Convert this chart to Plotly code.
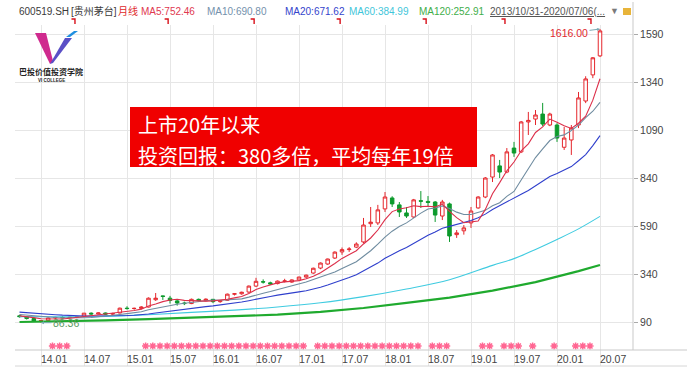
import plotly.graph_objects as go
import pandas as pd

# ---------------- data (forward-adjusted monthly bars, 600519.SH) ----------------
months = [p.strftime("%Y-%m") for p in pd.period_range("2013-10", "2020-07", freq="M")]

open_p = [122, 118, 108,
          95, 97, 111, 114, 112, 115, 121, 136, 132, 137, 131, 137,
          162, 160, 161, 168, 206, 226, 214, 200, 189, 186, 208, 201,
          208, 196, 203, 235, 237, 246, 277, 300, 294, 290, 301, 298,
          309, 324, 345, 371, 392, 423, 455, 467, 480, 507, 602, 606,
          679, 736, 700, 658, 637, 722, 718, 715, 642, 705, 545, 565,
          606, 684, 741, 845, 903, 871, 996, 976, 1132, 1147, 1173, 1116,
          1116, 1000, 1038, 1116, 1241, 1377, 1476]
high_p = [127, 121, 110,
          100, 115, 118, 120, 118, 120, 136, 140, 140, 139, 138, 165,
          172, 165, 172, 218, 241, 228, 226, 210, 196, 212, 212, 213,
          210, 205, 238, 240, 248, 280, 320, 312, 300, 306, 315, 312,
          326, 337, 373, 400, 420, 458, 478, 480, 505, 632, 689, 700,
          767, 745, 715, 689, 731, 772, 746, 720, 726, 712, 569, 595,
          689, 745, 845, 965, 934, 996, 1028, 1137, 1184, 1194, 1231, 1180,
          1125, 1106, 1116, 1288, 1370, 1470, 1616]
low_p = [113, 103, 92,
         86.36, 95, 105, 109, 108, 110, 115, 128, 130, 128, 126, 135,
         155, 154, 156, 166, 200, 205, 186, 175, 178, 183, 197, 198,
         188, 190, 200, 228, 232, 242, 272, 290, 283, 286, 296, 294,
         305, 320, 341, 365, 388, 418, 440, 455, 475, 500, 585, 595,
         663, 689, 637, 632, 632, 684, 690, 611, 621, 507, 528, 545,
         580, 680, 735, 819, 840, 865, 950, 970, 1064, 1116, 1110, 1110,
         1028, 986, 960, 1100, 1230, 1360, 1470]
close_p = [118, 108, 95,
           97, 111, 114, 112, 115, 117, 136, 132, 137, 131, 134, 162,
           160, 161, 168, 214, 214, 223, 202, 189, 186, 208, 201, 209,
           196, 201, 235, 237, 245, 277, 302, 298, 288, 303, 304, 309,
           324, 334, 370, 397, 418, 454, 467, 470, 496, 595, 610, 674,
           741, 705, 663, 642, 726, 719, 713, 647, 715, 538, 554, 580,
           668, 741, 840, 960, 871, 976, 970, 1132, 1140, 1168, 1121, 1173,
           1048, 1048, 1100, 1257, 1356, 1466, 1606]
# closes of the 19 months before 2013-10 (seed for MA5/10/20)
close_prior = [145, 160, 155, 170, 160, 162, 158, 155, 135, 139,
               140, 135, 133, 138, 132, 122, 128, 124, 118]

# long averages
ma60_months = ["2013-10", "2014-04", "2014-10", "2015-04", "2015-10", "2016-04", "2016-10",
               "2017-04", "2017-10", "2018-04", "2018-10", "2019-04", "2019-07", "2019-10",
               "2020-01", "2020-04", "2020-07"]
ma60_vals = [118, 117, 119, 128, 140, 152, 168, 190, 222, 262, 310, 385, 420, 468, 520, 575, 640]
ma120_months = ["2013-10", "2014-04", "2014-10", "2015-04", "2015-10", "2016-04", "2016-10",
                "2017-04", "2017-10", "2018-04", "2018-10", "2019-04", "2019-10", "2020-04", "2020-07"]
ma120_vals = [90, 93, 98, 105, 112, 118, 128, 143, 163, 190, 217, 253, 298, 355, 387]

star_runs = [("2014-02", "2014-04"), ("2015-03", "2017-01"), ("2017-03", "2018-05"),
             ("2018-07", "2018-09"), ("2019-02", "2019-03"), ("2019-05", "2019-07"),
             ("2019-09", "2019-09"), ("2019-12", "2019-12"), ("2020-03", "2020-05")]
dividend_months = ["2014-06", "2015-07", "2016-07", "2017-07", "2018-07", "2019-06", "2020-06"]

tick_labels = ["14.01", "14.07", "15.01", "15.07", "16.01", "16.07", "17.01", "17.07",
               "18.01", "18.07", "19.01", "19.07", "20.01", "20.07"]
y_ticks = [90, 340, 590, 840, 1090, 1340, 1590]

legend_items = [("600519.SH", "#3a3a3a"), ("[贵州茅台]", "#3a3a3a"), ("月线", "#e02a2a"),
                ("MA5:752.46", "#e0384f"), ("MA10:690.80", "#7491ac"),
                ("MA20:671.62", "#3444cc"), ("MA60:384.99", "#3fc6da"),
                ("MA120:252.91", "#3fae4a")]
date_text = "2013/10/31-2020/07/06(..."
title_lines = ["上市20年以来", "投资回报：380多倍，平均每年19倍"]

# ---------------- derived ----------------
n = len(months)
idx = list(range(n))
pos = {m: i for i, m in enumerate(months)}
full = pd.Series(close_prior + close_p, dtype=float)
k = len(close_prior)
ma_short = {w: full.rolling(w).mean().iloc[k:].tolist() for w in (5, 10, 20)}

star_x = []
for a, b in star_runs:
    for p in pd.period_range(a, b, freq="M"):
        star_x.append(pos[p.strftime("%Y-%m")])

tick_pos = [pos["20" + t[:2] + "-" + t[3:]] for t in tick_labels]

# ---------------- layout geometry (pixels) ----------------
W, H = 697, 382
PL, PR, PT, PB = 15, 633, 25, 366
xs = (600 - 41) / (tick_pos[-1] - tick_pos[0])          # px per month
x_lo = tick_pos[0] - (41 - PL) / xs
x_hi = x_lo + (PR - PL) / xs
ys = (322 - 34) / (y_ticks[-1] - y_ticks[0])           # px per unit
y_hi = y_ticks[-1] + (34 - PT) / ys
y_lo = y_ticks[0] - (PB - 322) / ys


def fx(xp):
    return (xp - PL) / (PR - PL)


def fy(yp):
    return (PB - yp) / (PB - PT)


def yval(yp):
    return y_hi - (yp - PT) / ys


FONT = "Liberation Sans, Noto Sans CJK SC, sans-serif"

fig = go.Figure()
fig.add_trace(go.Candlestick(
    x=idx, open=open_p, high=high_p, low=low_p, close=close_p,
    increasing=dict(line=dict(color="#e5262c", width=1), fillcolor="#ffffff"),
    decreasing=dict(line=dict(color="#0c9a2c", width=1), fillcolor="#0c9a2c"),
    whiskerwidth=0, showlegend=False, hoverinfo="skip"))

fig.add_trace(go.Scatter(x=[pos[m] for m in ma120_months], y=ma120_vals, mode="lines",
                         line=dict(color="#1faa2e", width=2.2), showlegend=False, hoverinfo="skip"))
fig.add_trace(go.Scatter(x=[pos[m] for m in ma60_months], y=ma60_vals, mode="lines",
                         line=dict(color="#3fcbe0", width=1.1, shape="spline"), showlegend=False, hoverinfo="skip"))
fig.add_trace(go.Scatter(x=idx, y=ma_short[20], mode="lines",
                         line=dict(color="#2f3fcc", width=1.1), showlegend=False, hoverinfo="skip"))
fig.add_trace(go.Scatter(x=idx, y=ma_short[10], mode="lines",
                         line=dict(color="#6f8ca0", width=1.1), showlegend=False, hoverinfo="skip"))
fig.add_trace(go.Scatter(x=idx, y=ma_short[5], mode="lines",
                         line=dict(color="#dc2f4a", width=1.1), showlegend=False, hoverinfo="skip"))

fig.add_trace(go.Scatter(x=[s + 0.6 for s in star_x], y=[yval(346)] * len(star_x), mode="markers",
                         marker=dict(symbol="asterisk-open", size=6, line=dict(color="#d0121b", width=1.5)),
                         showlegend=False, hoverinfo="skip"))

shapes = []
# axis separators
shapes.append(dict(type="line", xref="paper", yref="paper", x0=0, x1=fx(687), y0=fy(350), y1=fy(350),
                   line=dict(color="#c9c9c9", width=1)))
shapes.append(dict(type="line", xref="paper", yref="paper", x0=0, x1=fx(687), y0=fy(366), y1=fy(366),
                   line=dict(color="#d6d6d6", width=1)))
shapes.append(dict(type="line", xref="paper", yref="paper", x0=1, x1=1, y0=fy(350), y1=fy(2),
                   line=dict(color="#c9c9c9", width=1)))
# dividend hooks
for m in dividend_months:
    c = pos[m] - 0.4
    shapes.append(dict(type="path", xref="x", yref="paper",
                       path=f"M {c - 2.5 / xs} {fy(19)} L {c + 1 / xs} {fy(19)} L {c + 1 / xs} {fy(24)}",
                       line=dict(color="#d8101a", width=1.4)))
# red box
shapes.append(dict(type="rect", xref="paper", yref="paper", x0=fx(130), x1=fx(477), y0=fy(167), y1=fy(107),
                   fillcolor="#f00000", line=dict(width=0)))


def poly(pts, color):
    d = "M " + " L ".join(f"{fx(a)} {fy(b)}" for a, b in pts) + " Z"
    return dict(type="path", xref="paper", yref="paper", path=d, fillcolor=color, line=dict(width=0))


# logo
shapes.append(poly([(35, 33), (46, 33), (53, 61), (50, 64)], "#cf2a8e"))
shapes.append(poly([(50, 64), (53, 63), (72, 38), (65, 38)], "#5a4fc6"))
shapes.append(poly([(66, 37), (70, 37), (78, 31), (74, 31)], "#1f8fe0"))
# lock icon
shapes.append(dict(type="rect", xref="paper", yref="paper", x0=fx(623), x1=fx(631), y0=fy(15), y1=fy(8),
                   fillcolor="#e8b43a", line=dict(width=0)))

ann = []
# top info line
xpos = [17, 69, 116, 139, 205, 283, 347, 417]
for (t, col), xp in zip(legend_items, xpos):
    ann.append(dict(text=t, x=fx(xp), y=fy(11), xref="paper", yref="paper", xanchor="left", yanchor="middle",
                    showarrow=False, font=dict(family=FONT, size=10, color=col)))
ann.append(dict(text=f"<span style='text-decoration:underline'>{date_text}</span>", x=fx(488), y=fy(11),
                xref="paper", yref="paper", xanchor="left", yanchor="middle", showarrow=False,
                font=dict(family=FONT, size=10, color="#555555")))
ann.append(dict(text="▼", x=fx(614), y=fy(11), xref="paper", yref="paper", xanchor="center", yanchor="middle",
                showarrow=False, font=dict(family=FONT, size=9, color="#7a7a7a")))
# logo text
ann.append(dict(text="<b>巴投价值投资学院</b>", x=fx(51), y=fy(71), xref="paper", yref="paper",
                xanchor="center", yanchor="middle", showarrow=False,
                font=dict(family="Noto Sans CJK SC", size=8, color="#222222")))
ann.append(dict(text="<b>VI COLLEGE</b>", x=fx(51), y=fy(81), xref="paper", yref="paper",
                xanchor="center", yanchor="middle", showarrow=False,
                font=dict(family=FONT, size=4.5, color="#222222")))
# red box text: two lines, boxes meeting at the middle
ann.append(dict(text=title_lines[0], x=fx(137), y=fy(140), xref="paper", yref="paper",
                xanchor="left", yanchor="bottom", showarrow=False, borderpad=0,
                font=dict(family="Noto Sans CJK SC", size=20, color="#ffffff")))
ann.append(dict(text=title_lines[1], x=fx(137), y=fy(140), xref="paper", yref="paper",
                xanchor="left", yanchor="top", showarrow=False, borderpad=0,
                font=dict(family="Noto Sans CJK SC", size=20, color="#ffffff")))
# extreme labels
i_max = max(idx, key=lambda i: high_p[i])
i_min = min(idx, key=lambda i: low_p[i])
ann.append(dict(x=i_max, y=high_p[i_max], xref="x", yref="y", text=f"{high_p[i_max]:.2f}", showarrow=True,
                ax=-31, ay=4, arrowhead=2, arrowsize=0.6, arrowwidth=1, arrowcolor="#7aaab4",
                font=dict(family=FONT, size=10.5, color="#e0282e")))
ann.append(dict(x=i_min, y=low_p[i_min], xref="x", yref="y", text=f"{low_p[i_min]:.2f}", showarrow=True,
                ax=25, ay=0, arrowhead=2, arrowsize=0.6, arrowwidth=1, arrowcolor="#7aaab4",
                font=dict(family=FONT, size=10.5, color="#5b9a62")))

fig.update_layout(
    width=W, height=H,
    margin=dict(l=PL, r=W - PR, t=PT, b=H - PB, pad=0),
    paper_bgcolor="white", plot_bgcolor="white",
    showlegend=False,
    shapes=shapes, annotations=ann,
    xaxis=dict(range=[x_lo, x_hi], tickmode="array", tickvals=tick_pos, ticktext=tick_labels,
               ticklabelposition="inside right", ticklabelstandoff=-5, ticks="", showgrid=True,
               gridcolor="#e6e6e6", gridwidth=1,
               zeroline=False, showline=False, rangeslider=dict(visible=False),
               tickfont=dict(family=FONT, size=10.5, color="#444444")),
    yaxis=dict(range=[y_lo, y_hi], side="right", tickmode="array", tickvals=y_ticks,
               ticks="outside", ticklen=4, tickcolor="#aaaaaa", showgrid=True, gridcolor="#e6e6e6",
               zeroline=False, showline=False,
               tickfont=dict(family=FONT, size=10.5, color="#444444")),
)

fig.write_html("out.html", config={"displayModeBar": False})
